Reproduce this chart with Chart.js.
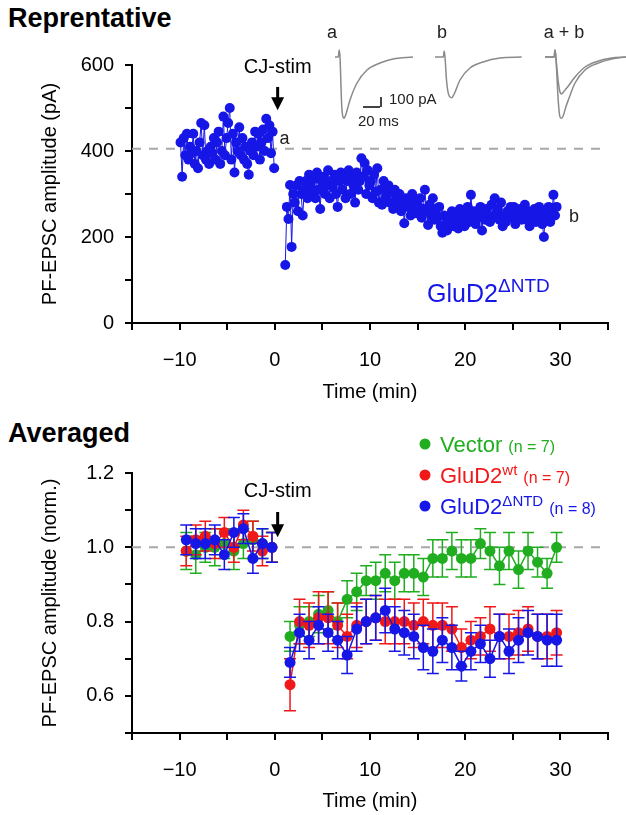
<!DOCTYPE html>
<html>
<head>
<meta charset="utf-8">
<script src="https://cdn.jsdelivr.net/npm/chart.js@4.4.1/dist/chart.umd.min.js"></script>
<style>
  html, body { margin: 0; padding: 0; background: #fff; }
  body { width: 626px; height: 815px; position: relative; overflow: hidden; font-family: "Liberation Sans", Arial, sans-serif; }
  canvas { position: absolute; left: 0; }
  #top { top: 0; }
  #bottom { top: 410px; }
  #traces { left: 320px; top: 22px; }
  .panel-title { position: absolute; left: 8px; font-weight: bold; font-size: 27px; line-height: 30px; }
</style>
</head>
<body>
<div class="panel-title" style="top:3px">Reprentative</div>
<div class="panel-title" style="top:418px">Averaged</div>
<canvas id="top" width="626" height="410"></canvas>
<canvas id="bottom" width="626" height="405"></canvas>
<canvas id="traces" width="306" height="118"></canvas>
<script>
// ---- data: representative cell (pA), one sweep every 10 s ----
const topPreStart = -9.9;
const topPostStart = 1.1;
const topSampleMin = 1 / 6;
const topPreAmp = [
  420, 340, 430, 390, 440, 380,
  410, 395, 440, 370, 400, 360,
  420, 465, 390, 460, 380, 400,
  370, 410, 395, 430, 380, 420,
  445, 370, 400, 480, 390, 430,
  465, 500, 380, 440, 350, 420,
  400, 455, 390, 430, 380, 410,
  370, 345, 400, 420, 390, 445,
  410, 440, 380, 420, 450, 400,
  475, 430, 460, 395, 445, 360
];
const topPostAmp = [
  135, 270, 242, 321, 177, 300,
  280, 320, 260, 330, 300, 250,
  310, 330, 290, 345, 320, 300,
  335, 290, 350, 310, 265, 330,
  340, 300, 320, 355, 290, 330,
  315, 345, 300, 270, 330, 350,
  310, 345, 290, 330, 355, 300,
  340, 320, 280, 350, 310, 330,
  383, 340, 372, 300, 355, 320,
  330, 290, 345, 305, 360, 280,
  310, 275, 330, 290, 300, 320,
  280, 305, 265, 310, 290, 270,
  300, 260, 285, 232, 290, 270,
  280, 250, 300, 265, 285, 255,
  270, 290, 245, 265, 310, 260,
  228, 275, 250, 290, 240, 265,
  245, 270, 225, 210, 250, 230,
  215, 245, 235, 260, 225, 250,
  240, 220, 265, 235, 255, 225,
  250, 270, 235, 298, 245, 260,
  230, 255, 245, 270, 215, 255,
  240, 265, 250, 235, 275, 245,
  290, 255, 265, 240, 280, 225,
  250, 235, 260, 245, 270, 250,
  270, 230, 255, 245, 265, 240,
  250, 275, 240, 260, 225, 255,
  245, 265, 235, 255, 270, 240,
  230, 200, 260, 245, 270, 235,
  255, 298, 250, 270
];
const topBaseline = 405;
const baselineX = [-15, 35];

// ---- data: averaged (normalized), 1-min bins ----
const avgPreTime = [-9.3, -8.3, -7.3, -6.3, -5.3, -4.3, -3.3, -2.3, -1.3, -0.3];
const avgPostTime = [1.6, 2.6, 3.6, 4.6, 5.6, 6.6, 7.6, 8.6, 9.6, 10.6, 11.6, 12.6, 13.6, 14.6, 15.6,
  16.6, 17.6, 18.6, 19.6, 20.6, 21.6, 22.6, 23.6, 24.6, 25.6, 26.6, 27.6, 28.6, 29.6];
const vectorPre = [0.99, 0.98, 1.00, 1.00, 1.01, 0.99, 1.01, 1.02, 1.01, 1.00];
const vectorPost = [0.76, 0.79, 0.80, 0.82, 0.83, 0.80, 0.86, 0.88, 0.91, 0.91, 0.93, 0.91, 0.93, 0.93, 0.92,
  0.97, 0.97, 0.99, 0.97, 0.97, 1.01, 0.99, 0.95, 0.99, 0.94, 0.99, 0.96, 0.93, 1.00];
const vectorPreErr = [0.05, 0.05, 0.04, 0.05, 0.04, 0.05, 0.04, 0.05, 0.04, 0.04];
const vectorPostErr = [0.04, 0.05, 0.04, 0.05, 0.05, 0.05, 0.05, 0.05, 0.04, 0.05, 0.05, 0.05, 0.05, 0.05, 0.05,
  0.05, 0.05, 0.05, 0.05, 0.05, 0.04, 0.05, 0.05, 0.05, 0.05, 0.05, 0.04, 0.04, 0.04];
const wtPre = [0.99, 1.02, 1.03, 1.01, 1.04, 1.00, 1.06, 1.03, 0.99, 1.00];
const wtPost = [0.63, 0.80, 0.79, 0.81, 0.81, 0.79, 0.76, 0.79, 0.80, 0.81, 0.80, 0.80, 0.80, 0.79, 0.80,
  0.79, 0.79, 0.78, 0.73, 0.75, 0.76, 0.78, 0.76, 0.76, 0.77, 0.78, 0.76, 0.76, 0.77];
const wtPreErr = [0.04, 0.04, 0.04, 0.04, 0.04, 0.04, 0.04, 0.04, 0.04, 0.04];
const wtPostErr = [0.07, 0.06, 0.06, 0.07, 0.07, 0.06, 0.06, 0.06, 0.06, 0.06, 0.06, 0.06, 0.06, 0.06, 0.06,
  0.06, 0.06, 0.06, 0.05, 0.05, 0.05, 0.06, 0.06, 0.06, 0.06, 0.06, 0.06, 0.06, 0.06];
const ntdPre = [1.02, 1.01, 1.01, 1.02, 0.98, 1.04, 1.05, 0.97, 1.01, 1.00];
const ntdPost = [0.69, 0.77, 0.75, 0.79, 0.77, 0.75, 0.71, 0.78, 0.80, 0.81, 0.83, 0.78, 0.77, 0.76, 0.73,
  0.72, 0.75, 0.73, 0.68, 0.72, 0.74, 0.70, 0.76, 0.72, 0.75, 0.77, 0.76, 0.75, 0.75];
const ntdPreErr = [0.04, 0.04, 0.04, 0.04, 0.04, 0.04, 0.04, 0.04, 0.04, 0.04];
const ntdPostErr = [0.04, 0.05, 0.05, 0.05, 0.05, 0.05, 0.05, 0.06, 0.06, 0.06, 0.06, 0.06, 0.06, 0.06, 0.06,
  0.06, 0.06, 0.06, 0.04, 0.05, 0.05, 0.05, 0.06, 0.06, 0.06, 0.06, 0.06, 0.07, 0.07];
const avgBaseline = 1.0;

// ---- data: example EPSC traces (ms, pA) ----
const traceATime = [18, 22, 23, 24, 26, 27.6, 29, 30.6, 33.6, 36, 44.4, 56.4, 72, 87.6, 111.6];
const traceAAmp  = [0, 0, 70, 0, -480, -600, -612, -585, -500, -430, -260, -130, -60, -20, 0];
const traceBTime = [138, 148, 149, 150, 152, 155, 158, 161, 168, 180, 195.6, 216, 242];
const traceBAmp  = [0, 0, 60, 0, -250, -390, -407, -370, -230, -110, -50, -10, 0];
const traceABTime = [270, 281, 282, 283, 286, 288, 290, 292, 295, 298, 306, 318, 334, 350, 367];
const traceABAmpA = [0, 0, 70, 0, -450, -600, -612, -585, -500, -430, -260, -130, -60, -20, 0];
const traceABAmpB = [0, 0, 70, 0, -250, -350, -370, -352, -320, -290, -200, -100, -40, -10, 0];
const barTimeX = [51.6, 72];   // 20 ms
const barAmpY = [-400, -500];  // 100 pA

const FONT = '"Liberation Sans", Arial, Helvetica, sans-serif';
const blue = '#1616e6';
const red = '#f01818';
const green = '#20ae20';
const dashGray = '#a8a8a8';
const traceGray = '#8a8a8a';

Chart.defaults.font.family = FONT;
Chart.defaults.color = '#000';

const stimArrowTime = 0.3;

function minusFmt(v) {
  return v < 0 ? '\u2212' + Math.abs(v) : String(v);
}

function drawArrow(ctx, x, yTop, yTip) {
  ctx.save();
  ctx.fillStyle = '#000';
  ctx.strokeStyle = '#000';
  ctx.lineWidth = 3;
  ctx.beginPath();
  ctx.moveTo(x, yTop);
  ctx.lineTo(x, yTip - 10);
  ctx.stroke();
  ctx.beginPath();
  ctx.moveTo(x - 6.5, yTip - 13);
  ctx.lineTo(x + 6.5, yTip - 13);
  ctx.lineTo(x, yTip);
  ctx.closePath();
  ctx.fill();
  ctx.restore();
}

function drawRich(ctx, x, y, parts) {
  parts.forEach(p => {
    ctx.font = p.size + 'px ' + FONT;
    ctx.fillText(p.text, x, y - (p.rise || 0));
    x += ctx.measureText(p.text).width + (p.gap || 0);
  });
}

function axisStyle() {
  return {
    grid: { display: true, drawOnChartArea: false, drawTicks: true, tickLength: 7, color: '#000', lineWidth: 2 },
    border: { display: true, color: '#000', width: 2 }
  };
}

// ---------- top chart ----------
const topNotes = {
  id: 'topNotes',
  afterDraw(chart) {
    const { ctx, scales: { x, y } } = chart;
    ctx.save();
    ctx.fillStyle = '#000';
    ctx.font = '20px ' + FONT;
    ctx.textAlign = 'center';
    ctx.textBaseline = 'middle';
    const ax = x.getPixelForValue(stimArrowTime);
    ctx.fillText('CJ-stim', ax, y.getPixelForValue(595));
    drawArrow(ctx, ax, y.getPixelForValue(549), y.getPixelForValue(495));
    ctx.textAlign = 'left';
    ctx.font = '18px ' + FONT;
    ctx.fillStyle = '#222';
    ctx.fillText('a', x.getPixelForValue(0.5), y.getPixelForValue(428));
    ctx.fillText('b', x.getPixelForValue(30.9), y.getPixelForValue(247));
    ctx.fillStyle = blue;
    ctx.textBaseline = 'alphabetic';
    drawRich(ctx, x.getPixelForValue(16.0), y.getPixelForValue(49), [
      { text: 'GluD2', size: 25 },
      { text: '\u0394NTD', size: 19, rise: 10 }
    ]);
    ctx.restore();
  }
};

new Chart(document.getElementById('top'), {
  type: 'line',
  data: {
    datasets: [
      {
        data: baselineX.map(v => ({ x: v, y: topBaseline })),
        borderColor: dashGray, borderWidth: 2, borderDash: [9, 8], pointRadius: 0, order: 5
      },
      {
        data: topPreAmp.map((v, i) => ({ x: topPreStart + i * topSampleMin, y: v })),
        borderColor: blue, borderWidth: 1, pointRadius: 5, pointBorderWidth: 0,
        pointBackgroundColor: blue, order: 1
      },
      {
        data: topPostAmp.map((v, i) => ({ x: topPostStart + i * topSampleMin, y: v })),
        borderColor: blue, borderWidth: 1, pointRadius: 5, pointBorderWidth: 0,
        pointBackgroundColor: blue, order: 1
      }
    ]
  },
  options: {
    responsive: false,
    animation: false,
    devicePixelRatio: 1,
    layout: { padding: { top: 65, right: 1, left: 0, bottom: 0 } },
    plugins: { legend: { display: false }, tooltip: { enabled: false } },
    scales: {
      x: Object.assign(axisStyle(), {
        type: 'linear', min: -15, max: 35,
        ticks: {
          stepSize: 5, autoSkip: false, maxRotation: 0, padding: 18, font: { size: 20 }, color: '#000',
          callback: v => (v % 10 === 0 && v > -15 && v < 35) ? minusFmt(v) : ''
        },
        title: { display: true, text: 'Time (min)', font: { size: 20 }, color: '#000', padding: { top: 0, bottom: 6 } },
        afterFit: s => { s.height = 87; }
      }),
      y: Object.assign(axisStyle(), {
        min: 0, max: 600,
        ticks: {
          stepSize: 100, padding: 11, font: { size: 20 }, color: '#000',
          callback: v => v % 200 === 0 ? v : ''
        },
        title: { display: true, text: 'PF-EPSC amplitude (pA)', font: { size: 20 }, color: '#000', padding: { top: 38, bottom: 0 } },
        afterFit: s => { s.width = 132; }
      })
    }
  },
  plugins: [topNotes]
});

// ---------- example traces ----------
const traceNotes = {
  id: 'traceNotes',
  afterDraw(chart) {
    const { ctx, scales: { x, y } } = chart;
    ctx.save();
    ctx.fillStyle = '#222';
    ctx.textBaseline = 'middle';
    ctx.textAlign = 'center';
    ctx.font = '18px ' + FONT;
    ctx.fillText('a', x.getPixelForValue(14.4), y.getPixelForValue(240));
    ctx.fillText('b', x.getPixelForValue(146.4), y.getPixelForValue(240));
    ctx.fillText('a + b', x.getPixelForValue(292.8), y.getPixelForValue(240));
    ctx.textAlign = 'left';
    ctx.font = '15px ' + FONT;
    ctx.fillText('100 pA', x.getPixelForValue(82.8), y.getPixelForValue(-430));
    ctx.fillText('20 ms', x.getPixelForValue(45.6), y.getPixelForValue(-650));
    ctx.restore();
  }
};

function traceSet(times, amps) {
  return {
    data: times.map((t, i) => ({ x: t, y: amps[i] })),
    borderColor: traceGray, borderWidth: 1.5, pointRadius: 0, cubicInterpolationMode: 'monotone'
  };
}

new Chart(document.getElementById('traces'), {
  type: 'line',
  data: {
    datasets: [
      traceSet(traceATime, traceAAmp),
      traceSet(traceBTime, traceBAmp),
      traceSet(traceABTime, traceABAmpA),
      traceSet(traceABTime, traceABAmpB),
      { data: barTimeX.map(t => ({ x: t, y: barAmpY[1] })), borderColor: '#444', borderWidth: 2, pointRadius: 0 },
      { data: barAmpY.map(a => ({ x: barTimeX[1] + 1.2, y: a })), borderColor: '#444', borderWidth: 2, pointRadius: 0 }
    ]
  },
  options: {
    responsive: false,
    animation: false,
    devicePixelRatio: 1,
    layout: { padding: 0 },
    plugins: { legend: { display: false }, tooltip: { enabled: false } },
    scales: {
      x: { type: 'linear', display: false, min: 0, max: 367.2 },
      y: { display: false, min: -830, max: 350 }
    }
  },
  plugins: [traceNotes]
});

// ---------- averaged chart ----------
function joinSeries(pre, post) {
  return pre.map((v, i) => ({ x: avgPreTime[i], y: v }))
    .concat([{ x: 0.6, y: null }])
    .concat(post.map((v, i) => ({ x: avgPostTime[i], y: v })));
}
function joinErr(pre, post) {
  return pre.concat([null]).concat(post);
}

const errorBars = {
  id: 'errorBars',
  beforeDatasetDraw(chart, args) {
    const ds = chart.data.datasets[args.index];
    if (!ds.errors) return;
    const { ctx, scales: { x, y } } = chart;
    ctx.save();
    ctx.strokeStyle = ds.borderColor;
    ctx.lineWidth = 1.5;
    ds.data.forEach((p, i) => {
      const e = ds.errors[i];
      if (p.y == null || e == null) return;
      const px = x.getPixelForValue(p.x);
      const t = y.getPixelForValue(p.y + e);
      const b = y.getPixelForValue(p.y - e);
      ctx.beginPath();
      ctx.moveTo(px, t); ctx.lineTo(px, b);
      ctx.moveTo(px - 6, t); ctx.lineTo(px + 6, t);
      ctx.moveTo(px - 6, b); ctx.lineTo(px + 6, b);
      ctx.stroke();
    });
    ctx.restore();
  }
};

const legendItems = [
  { color: green, name: 'Vector', sup: '', n: '(n = 7)' },
  { color: red, name: 'GluD2', sup: 'wt', n: '(n = 7)' },
  { color: blue, name: 'GluD2', sup: '\u0394NTD', n: '(n = 8)' }
];

const bottomNotes = {
  id: 'bottomNotes',
  afterDraw(chart) {
    const { ctx, scales: { x, y }, chartArea } = chart;
    ctx.save();
    ctx.fillStyle = '#000';
    ctx.font = '20px ' + FONT;
    ctx.textAlign = 'center';
    ctx.textBaseline = 'middle';
    const ax = x.getPixelForValue(stimArrowTime);
    ctx.fillText('CJ-stim', ax, y.getPixelForValue(1.149));
    drawArrow(ctx, ax, y.getPixelForValue(1.095), y.getPixelForValue(1.027));

    ctx.textAlign = 'left';
    ctx.textBaseline = 'alphabetic';
    legendItems.forEach((it, i) => {
      const rowY = chartArea.top - 29 + i * 31;
      ctx.fillStyle = it.color;
      ctx.beginPath();
      ctx.arc(chartArea.left + 293, rowY, 5.5, 0, Math.PI * 2);
      ctx.fill();
      const parts = [{ text: it.name, size: 22, gap: it.sup ? 0 : 6 }];
      if (it.sup) parts.push({ text: it.sup, size: 15, rise: 8, gap: 6 });
      parts.push({ text: it.n, size: 16 });
      drawRich(ctx, chartArea.left + 308, rowY + 8, parts);
    });
    ctx.restore();
  }
};

function avgSet(color, pre, post, preErr, postErr, order) {
  return {
    data: joinSeries(pre, post),
    errors: joinErr(preErr, postErr),
    borderColor: color, borderWidth: 1.5, pointRadius: 5.5, pointBorderWidth: 0,
    pointBackgroundColor: color, spanGaps: false, order: order
  };
}

new Chart(document.getElementById('bottom'), {
  type: 'line',
  data: {
    datasets: [
      {
        data: baselineX.map(v => ({ x: v, y: avgBaseline })),
        borderColor: dashGray, borderWidth: 2, borderDash: [9, 8], pointRadius: 0, order: 5
      },
      avgSet(green, vectorPre, vectorPost, vectorPreErr, vectorPostErr, 3),
      avgSet(red, wtPre, wtPost, wtPreErr, wtPostErr, 2),
      avgSet(blue, ntdPre, ntdPost, ntdPreErr, ntdPostErr, 1)
    ]
  },
  options: {
    responsive: false,
    animation: false,
    devicePixelRatio: 1,
    layout: { padding: { top: 63, right: 1, left: 0, bottom: 0 } },
    plugins: { legend: { display: false }, tooltip: { enabled: false } },
    scales: {
      x: Object.assign(axisStyle(), {
        type: 'linear', min: -15, max: 35,
        ticks: {
          stepSize: 5, autoSkip: false, maxRotation: 0, padding: 18, font: { size: 20 }, color: '#000',
          callback: v => (v % 10 === 0 && v > -15 && v < 35) ? minusFmt(v) : ''
        },
        title: { display: true, text: 'Time (min)', font: { size: 20 }, color: '#000', padding: { top: 0, bottom: 2 } },
        afterFit: s => { s.height = 82; }
      }),
      y: Object.assign(axisStyle(), {
        min: 0.5, max: 1.2,
        ticks: {
          stepSize: 0.1, padding: 11, font: { size: 20 }, color: '#000',
          callback: v => {
            const k = Math.round(v * 10);
            return (k % 2 === 0 && k >= 6) ? (k / 10).toFixed(1) : '';
          }
        },
        title: { display: true, text: 'PF-EPSC amplitude (norm.)', font: { size: 20 }, color: '#000', padding: { top: 38, bottom: 0 } },
        afterFit: s => { s.width = 132; }
      })
    }
  },
  plugins: [errorBars, bottomNotes]
});
</script>
</body>
</html>
